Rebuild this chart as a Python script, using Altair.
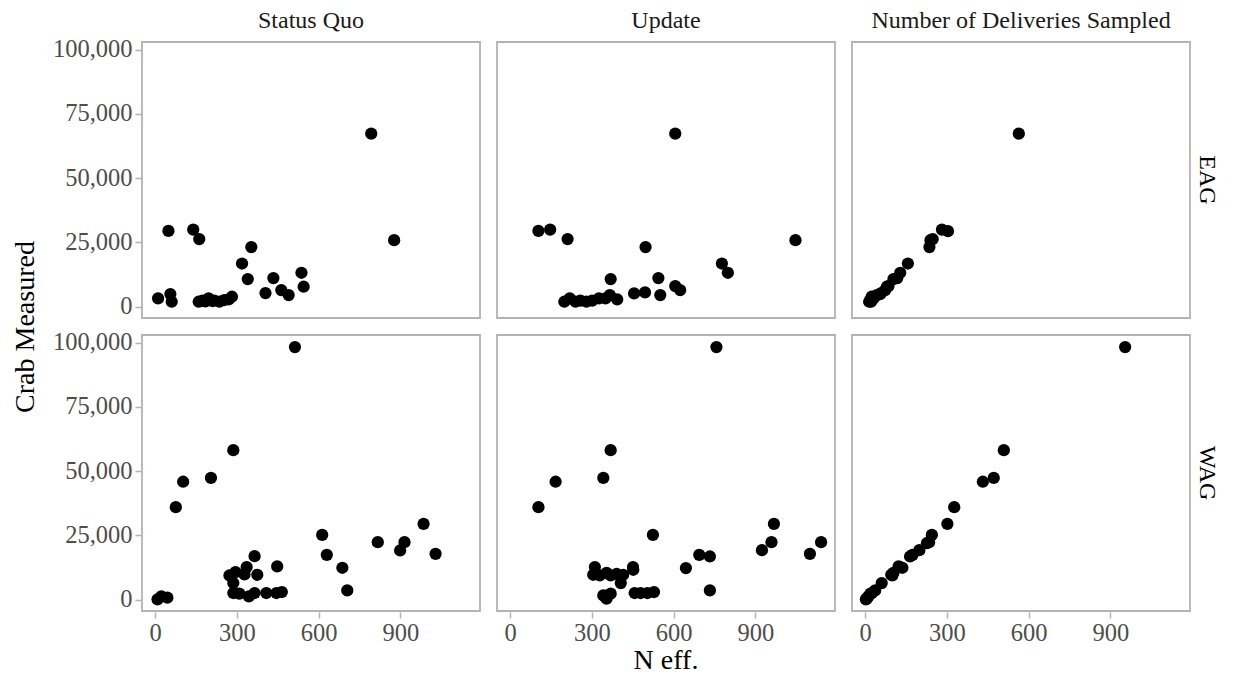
import altair as alt
import pandas as pd

# Row / column facet levels
regions = ["EAG", "WAG"]
methods = ["Status Quo", "Update", "Number of Deliveries Sampled"]

# EAG — effective sample size (x) against crab measured (y)
eag_sq_x = [11, 49, 56, 61, 140, 162, 160, 174, 185, 196, 210, 217, 236, 254, 270, 282,
            319, 353, 340, 405, 434, 463, 490, 537, 545, 793, 877]
eag_sq_y = [3240, 29500, 4900, 1940, 30000, 26300, 1940, 2330, 2100, 3240, 2200, 2400, 1940, 2600, 2850, 3885,
            16800, 23200, 10750, 5300, 11140, 6475, 4530, 13200, 7770, 67340, 25900]

eag_up_x = [104, 147, 211, 199, 219, 240, 258, 280, 301, 326, 350, 366, 393,
            369, 455, 495, 497, 544, 551, 606, 606, 624, 777, 799, 1047]
eag_up_y = [29500, 30000, 26300, 1940, 3240, 1940, 2330, 1940, 2330, 3240, 3240, 4530, 2850,
            10750, 5180, 5570, 23200, 11140, 4530, 67340, 8030, 6475, 16800, 13200, 25900]

eag_del_x = [564, 282, 304, 248, 240, 236, 157, 129, 118, 104, 86, 80, 74, 59, 55, 43, 31, 27, 22, 18, 15, 24]
eag_del_y = [67340, 30000, 29400, 26300, 25900, 23200, 16800, 13200, 11140, 10750, 8030, 7770, 6475, 5300,
             4900, 4530, 3240, 2850, 1940, 2330, 1940, 3885]

# WAG
wag_sq_x = [9, 23, 45, 76, 103, 205, 287, 513,
            273, 295, 287, 287, 309, 328, 336, 344, 365, 365, 375, 408, 448, 445, 465,
            613, 630, 687, 705, 817, 899, 915, 985, 1029]
wag_sq_y = [130, 1300, 780, 36000, 45900, 47400, 58200, 98300,
            9450, 10700, 6470, 2590, 2330, 9830, 12700, 1300, 2590, 16950, 9700, 2590, 12940, 2590, 2980,
            25200, 17470, 12420, 3620, 22390, 19150, 22390, 29500, 17860]

wag_up_x = [104, 167, 342, 369, 757, 524,
            311, 305, 329, 354, 369, 391, 415, 406, 451, 452,
            342, 354, 369, 350, 457, 479, 504, 528,
            645, 694, 733, 733, 924, 959, 968, 1100, 1141]
wag_up_y = [36000, 45900, 47400, 58200, 98300, 25200,
            12700, 9700, 9450, 10480, 9450, 10000, 9700, 6470, 12700, 11650,
            1680, 390, 2330, 1000, 2590, 2590, 2590, 2980,
            12290, 17470, 16820, 3620, 19280, 22390, 29500, 17860, 22390]

wag_del_x = [954, 509, 472, 432, 327, 302, 245, 235, 227, 199, 174, 165, 137, 123, 127,
             104, 96, 100, 61, 37, 25, 20, 12, 6, 3]
wag_del_y = [98300, 58200, 47400, 45900, 36000, 29500, 25200, 22390, 22000, 19280, 17470, 16820, 12420, 12940, 12700,
             10480, 9700, 9450, 6470, 3620, 2590, 2330, 1300, 390, 130]

panels = [
    ("EAG", "Status Quo", eag_sq_x, eag_sq_y),
    ("EAG", "Update", eag_up_x, eag_up_y),
    ("EAG", "Number of Deliveries Sampled", eag_del_x, eag_del_y),
    ("WAG", "Status Quo", wag_sq_x, wag_sq_y),
    ("WAG", "Update", wag_up_x, wag_up_y),
    ("WAG", "Number of Deliveries Sampled", wag_del_x, wag_del_y),
]

rows = []
for region, method, xs, ys in panels:
    for xv, yv in zip(xs, ys):
        rows.append({"region": region, "method": method, "neff": xv, "crab": yv})
df = pd.DataFrame(rows)

FONT = "Liberation Serif"
GRAY = "#b3b3b3"

chart = (
    alt.Chart(df)
    .mark_circle(size=150, color="black", opacity=1)
    .encode(
        x=alt.X(
            "neff:Q",
            title=None,
            scale=alt.Scale(domain=[-48, 1192], nice=False, zero=False),
            axis=alt.Axis(values=[0, 300, 600, 900], format=".0f"),
        ),
        y=alt.Y(
            "crab:Q",
            title=None,
            scale=alt.Scale(domain=[-4400, 103000], nice=False, zero=False),
            axis=alt.Axis(values=[0, 25000, 50000, 75000, 100000], format=",.0f"),
        ),
    )
    .properties(width=338, height=276)
    .facet(
        row=alt.Row(
            "region:N",
            sort=regions,
            title="Crab Measured",
            header=alt.Header(
                labelOrient="right", labelAngle=90, labelFont=FONT, labelFontSize=24,
                labelColor="black", labelPadding=4,
                titleOrient="left", titleFont=FONT, titleFontSize=28,
                titleFontWeight="normal", titleColor="black", titlePadding=2,
            ),
        ),
        column=alt.Column(
            "method:N",
            sort=methods,
            title="N eff.",
            header=alt.Header(
                labelFont=FONT, labelFontSize=24, labelColor="#1a1a1a", labelPadding=8,
                titleOrient="bottom", titleFont=FONT, titleFontSize=28,
                titleFontWeight="normal", titleColor="black", titlePadding=-8,
            ),
        ),
        spacing={"row": 15, "column": 15},
    )
    .configure(background="white", font=FONT,
               padding={"left": 12, "top": 9, "right": 5, "bottom": 5})
    .configure_view(stroke=GRAY, strokeWidth=1.8, fill="white")
    .configure_header(labelFont=FONT, titleFont=FONT)
    .configure_axis(
        grid=False,
        domain=False,
        tickColor=GRAY,
        tickSize=6,
        tickWidth=1.5,
        labelFont=FONT,
        labelFontSize=24.5,
        labelColor="#4d4d4d",
        labelPadding=3,
    )
)

chart.save("out.html", embed_options={"renderer": "svg", "actions": False})
